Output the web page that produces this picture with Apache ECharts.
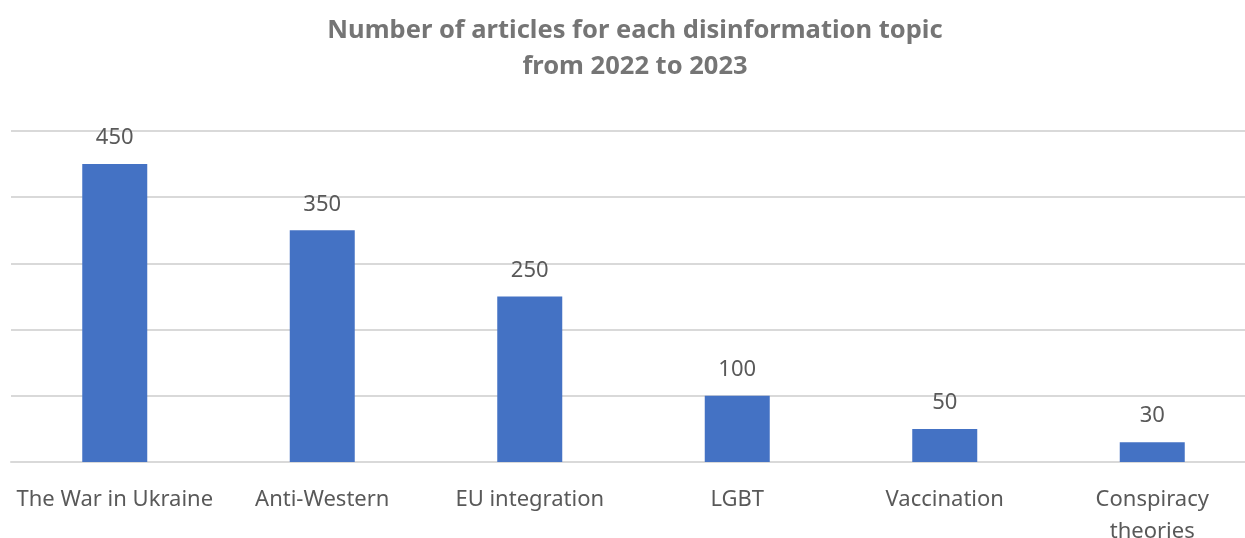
<!DOCTYPE html>
<html>
<head>
<meta charset="utf-8">
<script src="https://cdn.jsdelivr.net/npm/echarts@6/dist/echarts.min.js"></script>
<style>
  html, body { margin: 0; padding: 0; background: #fff; }
  #chart { width: 1245px; height: 538px; }
</style>
</head>
<body>
<div id="chart"></div>
<script>
const titleLines = ['Number of articles for each disinformation topic', 'from 2022 to 2023'];
const topics = ['The War in Ukraine', 'Anti-Western', 'EU integration', 'LGBT', 'Vaccination', 'Conspiracy\ntheories'];
const articleCounts = [450, 350, 250, 100, 50, 30];

const FONT = '"Noto Sans", "Open Sans", sans-serif';
const chart = echarts.init(document.getElementById('chart'), null, { renderer: 'canvas' });

chart.setOption({
  backgroundColor: '#ffffff',
  animation: false,
  // two-line heading, centred over the plot area
  graphic: [{
    type: 'text',
    x: 635,
    y: 13,
    style: {
      text: titleLines.join('\n'),
      textAlign: 'center',
      textVerticalAlign: 'top',
      fontFamily: FONT,
      fontSize: 25.5,
      fontWeight: 'bold',
      fill: '#757575',
      lineHeight: 36
    }
  }],
  // plot area runs slightly past the right edge of the canvas
  grid: { left: 11, width: 1245, top: 131, height: 331, outerBoundsMode: 'none', containLabel: false },
  xAxis: {
    type: 'category',
    data: topics,
    axisTick: { show: false },
    axisLine: { show: true, lineStyle: { color: '#d9d9d9', width: 2 } },
    axisLabel: {
      interval: 0,
      margin: 22,
      fontFamily: FONT,
      fontSize: 22,
      color: '#595959',
      lineHeight: 32
    }
  },
  yAxis: {
    type: 'value',
    min: 0,
    max: 500,
    interval: 100,
    axisLabel: { show: false },
    axisLine: { show: false },
    axisTick: { show: false },
    splitLine: { lineStyle: { color: '#d9d9d9', width: 2 } }
  },
  series: [{
    type: 'bar',
    data: articleCounts,
    barWidth: 65,
    itemStyle: { color: '#4472c4' },
    label: {
      show: true,
      position: 'top',
      distance: 15,
      fontFamily: FONT,
      fontSize: 22,
      color: '#595959'
    }
  }]
});
</script>
</body>
</html>
